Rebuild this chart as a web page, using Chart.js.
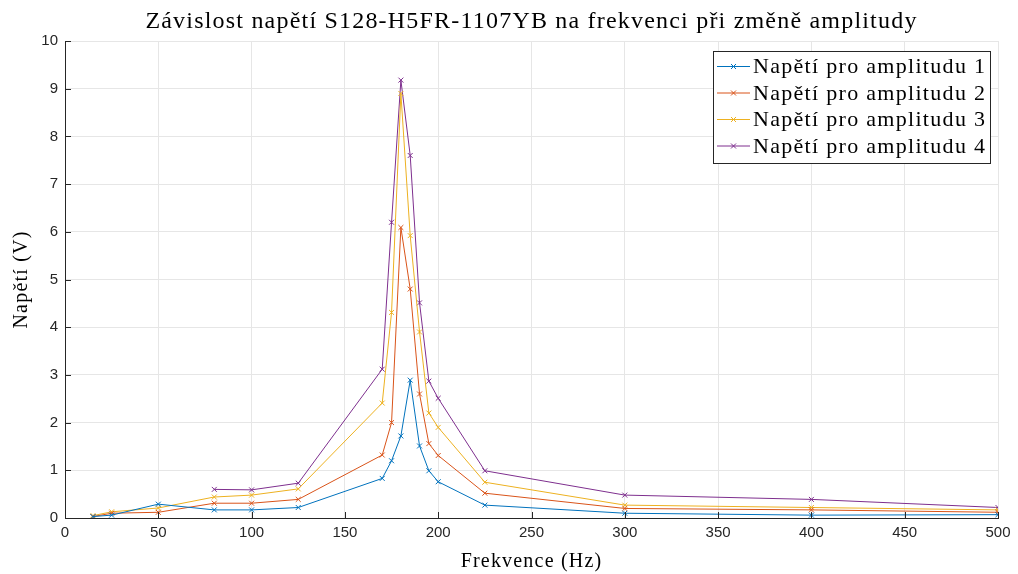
<!DOCTYPE html>
<html>
<head>
<meta charset="utf-8">
<script src="https://cdn.jsdelivr.net/npm/chart.js@4.4.1/dist/chart.umd.min.js"></script>
<style>
  html, body { margin: 0; padding: 0; background: #fff; }
  #wrap { width: 1018px; height: 574px; }
</style>
</head>
<body>
<div id="wrap"><canvas id="chart" width="1018" height="574"></canvas></div>
<script>
// frekvence (Hz)
const freq = [15, 25, 50, 80, 100, 125, 170, 175, 180, 185, 190, 195, 200, 225, 300, 400, 500];
// napeti (V) pro jednotlive amplitudy
const amp1 = [0.03, 0.06, 0.29, 0.17, 0.17, 0.22, 0.83, 1.2, 1.72, 2.89, 1.51, 0.99, 0.76, 0.27, 0.1, 0.06, 0.07];
const amp2 = [0.03, 0.1, 0.12, 0.31, 0.31, 0.39, 1.32, 2.0, 6.09, 4.8, 2.6, 1.56, 1.31, 0.52, 0.2, 0.17, 0.12];
const amp3 = [0.05, 0.13, 0.21, 0.44, 0.48, 0.61, 2.41, 4.31, 8.9, 5.92, 3.9, 2.2, 1.9, 0.75, 0.27, 0.22, 0.17];
const amp4 = [null, null, null, 0.6, 0.59, 0.73, 3.12, 6.2, 9.18, 7.6, 4.51, 2.87, 2.51, 0.99, 0.48, 0.39, 0.22];

const labels = ['Napětí pro amplitudu 1', 'Napětí pro amplitudu 2', 'Napětí pro amplitudu 3', 'Napětí pro amplitudu 4'];
const titleText = 'Závislost napětí S128-H5FR-1107YB na frekvenci při změně amplitudy';
const xTitle = 'Frekvence (Hz)';
const yTitle = 'Napětí (V)';
const colors = ['#0072BD', '#D95319', '#EDB120', '#7E2F8E'];
const serif = '"Liberation Serif", "DejaVu Serif", serif';
const sans = '"Liberation Sans", Arial, sans-serif';
const axisColor = '#262626';

function toPoints(vals) {
  return freq.map((f, i) => ({ x: f, y: vals[i] })).filter(p => p.y !== null);
}

const datasets = [amp1, amp2, amp3, amp4].map((vals, i) => ({
  label: labels[i],
  data: toPoints(vals),
  borderColor: colors[i],
  backgroundColor: colors[i],
  borderWidth: 1,
  pointStyle: 'crossRot',
  pointRadius: 3.5,
  pointBorderWidth: 1,
  showLine: true,
  tension: 0
}));

// serif texts (latex look), inner ticks and the legend box
const decor = {
  id: 'decor',
  afterDraw(chart) {
    const { ctx, chartArea: a, scales } = chart;
    ctx.save();

    // inner tick marks
    ctx.strokeStyle = axisColor;
    ctx.lineWidth = 1;
    ctx.beginPath();
    scales.x.ticks.forEach(t => {
      const px = Math.round(scales.x.getPixelForValue(t.value)) + 0.5;
      ctx.moveTo(px, a.bottom);
      ctx.lineTo(px, a.bottom - 6);
    });
    scales.y.ticks.forEach(t => {
      const py = Math.round(scales.y.getPixelForValue(t.value)) + 0.5;
      ctx.moveTo(a.left, py);
      ctx.lineTo(a.left + 6, py);
    });
    ctx.stroke();

    ctx.fillStyle = '#000';
    ctx.textAlign = 'center';
    ctx.textBaseline = 'middle';
    ctx.letterSpacing = '1.2px';

    ctx.font = '24px ' + serif;
    ctx.fillText(titleText, (a.left + a.right) / 2, 22);

    ctx.font = '20px ' + serif;
    ctx.fillText(xTitle, (a.left + a.right) / 2, 562);

    ctx.save();
    ctx.translate(22, (a.top + a.bottom) / 2);
    ctx.rotate(-Math.PI / 2);
    ctx.fillText(yTitle, 0, 0);
    ctx.restore();

    // legend
    const lx = 713, ly = 51, lw = 277, lh = 112;
    ctx.fillStyle = '#fff';
    ctx.fillRect(lx, ly, lw, lh);
    ctx.strokeStyle = axisColor;
    ctx.strokeRect(lx + 0.5, ly + 0.5, lw, lh);
    ctx.font = '22px ' + serif;
    ctx.textAlign = 'left';
    ctx.letterSpacing = '1.3px';
    labels.forEach((t, i) => {
      const y = ly + 15.5 + i * 26.5;
      ctx.strokeStyle = colors[i];
      ctx.beginPath();
      ctx.moveTo(lx + 4, y);
      ctx.lineTo(lx + 37, y);
      ctx.stroke();
      const cx = lx + 20.5, r = 2.5;
      ctx.beginPath();
      ctx.moveTo(cx - r, y - r); ctx.lineTo(cx + r, y + r);
      ctx.moveTo(cx - r, y + r); ctx.lineTo(cx + r, y - r);
      ctx.stroke();
      ctx.fillStyle = '#000';
      ctx.fillText(t, lx + 40, y + 1);
    });
    ctx.restore();
  }
};

new Chart(document.getElementById('chart').getContext('2d'), {
  type: 'line',
  data: { datasets },
  options: {
    responsive: false,
    animation: false,
    layout: { padding: { left: 0, right: 20, top: 41, bottom: 0 } },
    plugins: {
      legend: { display: false },
      tooltip: { enabled: false },
      title: { display: false }
    },
    scales: {
      x: {
        type: 'linear',
        min: 0, max: 500,
        ticks: { stepSize: 50, color: axisColor, font: { family: sans, size: 15 }, padding: 6 },
        grid: { color: '#e6e6e6', drawTicks: false },
        border: { color: axisColor },
        afterFit(s) { s.height = 56; }
      },
      y: {
        min: 0, max: 10,
        ticks: { stepSize: 1, color: axisColor, font: { family: sans, size: 15 }, padding: 7 },
        grid: { color: '#e6e6e6', drawTicks: false },
        border: { color: axisColor },
        afterFit(s) { s.width = 65; }
      }
    }
  },
  plugins: [decor]
});
</script>
</body>
</html>
